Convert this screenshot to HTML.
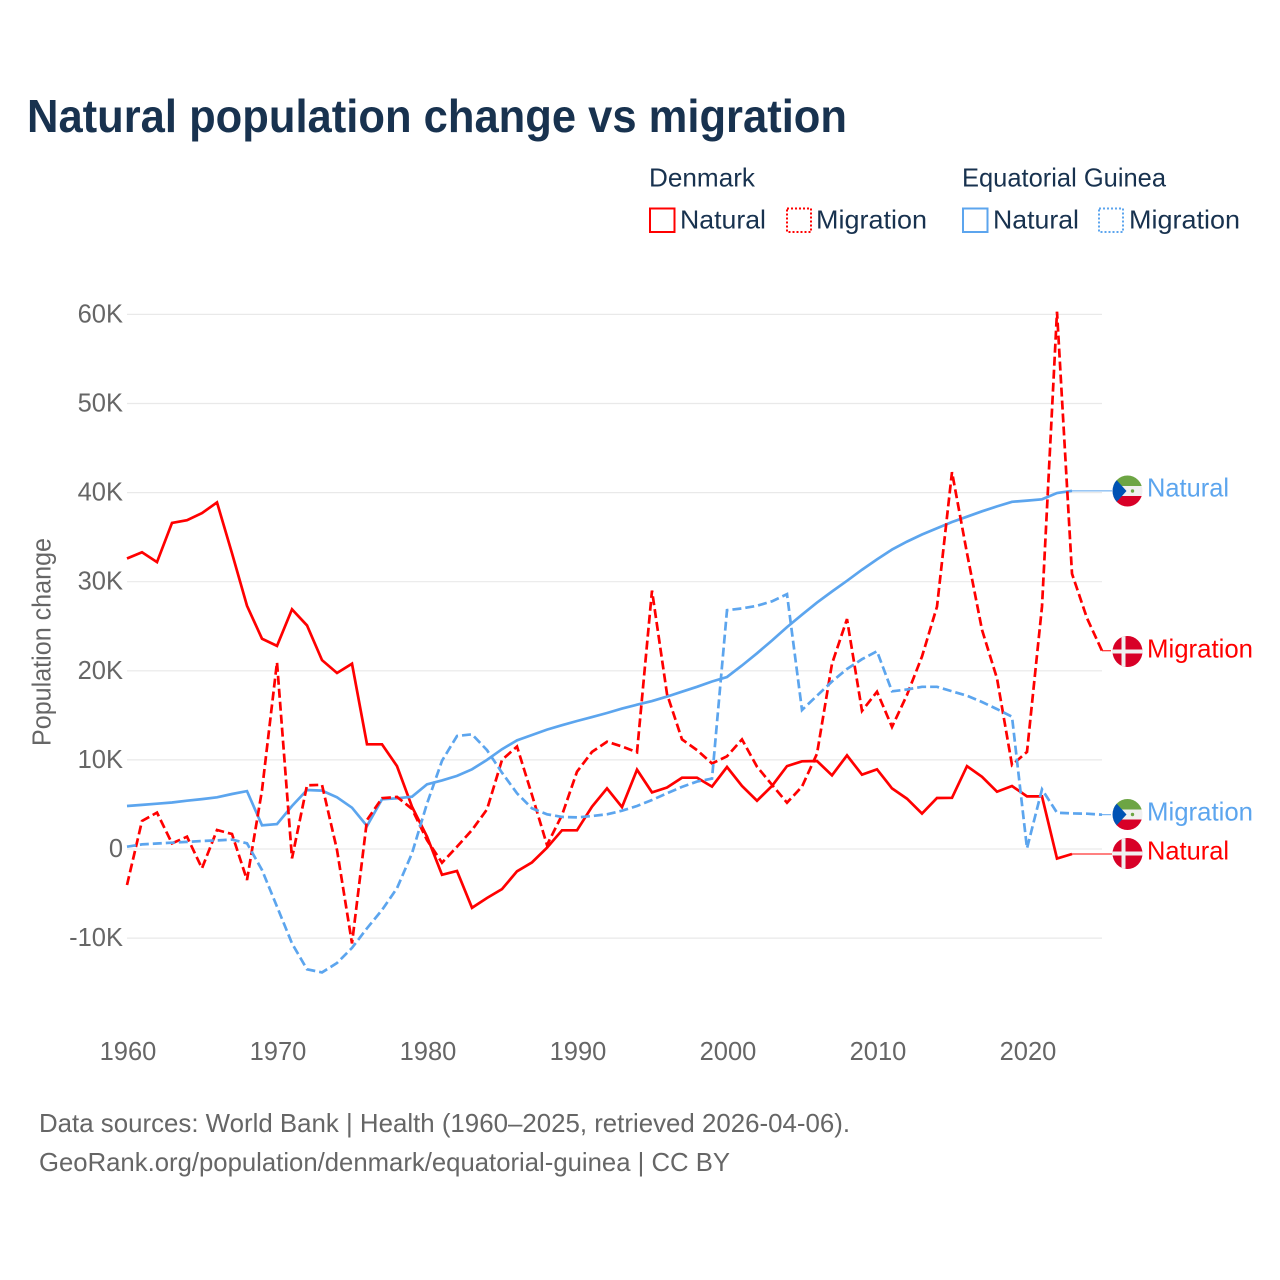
<!DOCTYPE html>
<html lang="en">
<head>
<meta charset="utf-8">
<title>Natural population change vs migration</title>
<style>
  html, body { margin: 0; padding: 0; background: #fff; }
  svg { display: block; font-family: "Liberation Sans", sans-serif; }
</style>
</head>
<body>
<svg id="chart" xmlns="http://www.w3.org/2000/svg" width="1280" height="1280" viewBox="0 0 1280 1280">
  <rect x="0" y="0" width="1280" height="1280" fill="#ffffff"/>
  <text x="27" y="132" font-size="46" font-weight="bold" fill="#18324f" textLength="820" lengthAdjust="spacingAndGlyphs">Natural population change vs migration</text>

  <g font-size="26" fill="#18324f">
    <text x="649" y="186.5" textLength="106" lengthAdjust="spacingAndGlyphs">Denmark</text>
    <text x="962" y="186.5" textLength="204" lengthAdjust="spacingAndGlyphs">Equatorial Guinea</text>
    <g>
      <rect x="650" y="208.5" width="24.5" height="23.5" fill="none" stroke="#ff0000" stroke-width="2"/>
      <text x="680" y="228.5" textLength="86" lengthAdjust="spacingAndGlyphs">Natural</text>
    </g>
    <g>
      <rect x="787" y="208.5" width="24" height="23.5" fill="none" stroke="#ff0000" stroke-width="2" stroke-dasharray="2 2"/>
      <text x="816" y="228.5" textLength="111" lengthAdjust="spacingAndGlyphs">Migration</text>
    </g>
    <g>
      <rect x="963" y="208.5" width="24.5" height="23.5" fill="none" stroke="#5ca5ee" stroke-width="2"/>
      <text x="993" y="228.5" textLength="86" lengthAdjust="spacingAndGlyphs">Natural</text>
    </g>
    <g>
      <rect x="1099" y="208.5" width="24" height="23.5" fill="none" stroke="#5ca5ee" stroke-width="2" stroke-dasharray="2 2"/>
      <text x="1129" y="228.5" textLength="111" lengthAdjust="spacingAndGlyphs">Migration</text>
    </g>
  </g>

  <g id="grid"></g>
  <g id="yticks" font-size="25.5" fill="#666666" text-anchor="end"></g>
  <g id="xticks" font-size="25.5" fill="#666666" text-anchor="middle"></g>
  <text transform="translate(50.5,746) rotate(-90)" font-size="25.5" fill="#666666" textLength="208" lengthAdjust="spacingAndGlyphs">Population change</text>
  <g id="series"></g>

  <defs>
    <clipPath id="flag-clip" clipPathUnits="objectBoundingBox"><circle cx="0.5" cy="0.5" r="0.5"/></clipPath>
  </defs>

  <g font-size="26">
    <g transform="translate(1112.5,475.5)">
      <g clip-path="url(#flag-clip)">
        <rect width="30" height="31" fill="#f0f0f0"/>
        <rect width="30" height="10.5" fill="#6da544"/>
        <rect y="20.5" width="30" height="10.5" fill="#d80027"/>
        <polygon points="0,0 14,15.5 0,31" fill="#0052b4"/>
        <circle cx="20" cy="15.5" r="1.7" fill="#6da544"/>
      </g>
    </g>
    <text x="1147" y="496.5" fill="#5ca5ee" textLength="82" lengthAdjust="spacingAndGlyphs">Natural</text>

    <g transform="translate(1112.5,636)">
      <g clip-path="url(#flag-clip)">
        <rect width="30" height="31" fill="#d80027"/>
        <rect x="9" width="4" height="31" fill="#f0f0f0"/>
        <rect y="13.5" width="30" height="4" fill="#f0f0f0"/>
      </g>
    </g>
    <text x="1147" y="657.5" fill="#ff0000" textLength="106" lengthAdjust="spacingAndGlyphs">Migration</text>

    <g transform="translate(1112.5,799)">
      <g clip-path="url(#flag-clip)">
        <rect width="30" height="31" fill="#f0f0f0"/>
        <rect width="30" height="10.5" fill="#6da544"/>
        <rect y="20.5" width="30" height="10.5" fill="#d80027"/>
        <polygon points="0,0 14,15.5 0,31" fill="#0052b4"/>
        <circle cx="20" cy="15.5" r="1.7" fill="#6da544"/>
      </g>
    </g>
    <text x="1147" y="820.5" fill="#5ca5ee" textLength="106" lengthAdjust="spacingAndGlyphs">Migration</text>

    <g transform="translate(1112.5,838)">
      <g clip-path="url(#flag-clip)">
        <rect width="30" height="31" fill="#d80027"/>
        <rect x="9" width="4" height="31" fill="#f0f0f0"/>
        <rect y="13.5" width="30" height="4" fill="#f0f0f0"/>
      </g>
    </g>
    <text x="1147" y="859.5" fill="#ff0000" textLength="82" lengthAdjust="spacingAndGlyphs">Natural</text>
  </g>

  <g font-size="26" fill="#666666">
    <text x="39" y="1132" textLength="811" lengthAdjust="spacingAndGlyphs">Data sources: World Bank | Health (1960–2025, retrieved 2026-04-06).</text>
    <text x="39" y="1171" textLength="691" lengthAdjust="spacingAndGlyphs">GeoRank.org/population/denmark/equatorial-guinea | CC BY</text>
  </g>
</svg>

<script>
const startYear = 1960;
const xTickLabels = [1960, 1970, 1980, 1990, 2000, 2010, 2020];
const yTickValues = [-10, 0, 10, 20, 30, 40, 50, 60];

const denmarkNatural = [32.6, 33.3, 32.2, 36.6, 36.9, 37.7, 38.9, 33.2, 27.3, 23.6,
  22.8, 26.9, 25.1, 21.2, 19.75, 20.8, 11.75, 11.75, 9.3, 4.75,
  1.4, -2.9, -2.47, -6.6, -5.5, -4.5, -2.5, -1.5, 0.15, 2.1,
  2.1, 4.75, 6.8, 4.7, 8.9, 6.35, 6.9, 8.0, 8.0, 7.0,
  9.2, 7.07, 5.42, 7.07, 9.3, 9.84, 9.88, 8.27, 10.5, 8.34,
  8.94, 6.8, 5.65, 3.97, 5.72, 5.75, 9.3, 8.1, 6.43, 7.07,
  5.9, 5.9, -1.08, -0.56];

const denmarkMigration = [-4.04, 3.14, 4.08, 0.63, 1.38, -2.17, 2.13, 1.68, -3.48, 6.6,
  20.95, -1.05, 7.15, 7.2, -0.1, -10.6, 3.25, 5.7, 5.85, 4.5,
  1.0, -1.54, 0.26, 2.13, 4.45, 10.0, 11.5, 6.06, 0.45, 3.8,
  8.68, 10.9, 12.04, 11.5, 10.85, 29.0, 17.4, 12.3, 11.1, 9.6,
  10.4, 12.3, 9.24, 7.2, 5.2, 7.0, 10.7, 20.8, 25.8, 15.5,
  17.65, 13.7, 17.3, 21.6, 27.2, 42.3, 33.2, 24.6, 19.15, 9.43,
  10.9, 27.2, 60.3, 30.9, 25.9, 22.25];

const guineaNatural = [4.83, 4.95, 5.08, 5.22, 5.42, 5.6, 5.8, 6.17, 6.5, 2.66,
  2.8, 4.83, 6.62, 6.55, 5.8, 4.64, 2.58, 5.58, 5.69, 5.87,
  7.26, 7.7, 8.2, 8.94, 10.0, 11.2, 12.2, 12.8, 13.4, 13.9,
  14.37, 14.8, 15.26, 15.76, 16.2, 16.6, 17.1, 17.65, 18.2, 18.8,
  19.3, 20.6, 21.96, 23.4, 24.9, 26.3, 27.65, 28.9, 30.1, 31.35,
  32.5, 33.6, 34.5, 35.3, 36.0, 36.7, 37.3, 37.9, 38.45, 38.97,
  39.1, 39.25, 39.95, 40.2];

const guineaMigration = [0.26, 0.52, 0.62, 0.71, 0.8, 0.9, 0.97, 1.05, 0.64, -2.36,
  -6.47, -10.6, -13.5, -13.85, -12.8, -11.1, -8.9, -6.85, -4.4, -0.48,
  5.1, 9.9, 12.68, 12.87, 11.1, 8.56, 6.25, 4.56, 3.9, 3.6,
  3.55, 3.7, 3.9, 4.3, 4.83, 5.5, 6.25, 6.97, 7.56, 7.9,
  26.8, 27.0, 27.3, 27.8, 28.6, 15.6, 17.2, 18.8, 20.2, 21.3,
  22.2, 17.7, 17.9, 18.2, 18.2, 17.7, 17.2, 16.5, 15.7, 14.85,
  0.08, 6.7, 4.07, 4.0, 3.96, 3.85];

const SVG_NS = 'http://www.w3.org/2000/svg';
const RED = '#ff0000';
const BLUE = '#5ca5ee';

function xScale(year) { return 127 + 15 * (year - startYear); }
function yScale(value) { return 849 - 8.91 * value; }
function yTickText(value) { return value === 0 ? '0' : value + 'K'; }

function make(tag, attrs, parent) {
  const el = document.createElementNS(SVG_NS, tag);
  Object.keys(attrs).forEach(function (k) { el.setAttribute(k, attrs[k]); });
  parent.appendChild(el);
  return el;
}

const gridGroup = document.getElementById('grid');
const yTickGroup = document.getElementById('yticks');
const xTickGroup = document.getElementById('xticks');
const seriesGroup = document.getElementById('series');

yTickValues.forEach(function (v) {
  const line = make('line', { x1: 127, x2: 1102, y1: yScale(v), y2: yScale(v), stroke: '#e9e9e9', 'stroke-width': 1.2 }, gridGroup);
  
  
  const t = make('text', { x: 123, y: yScale(v) + 8 }, yTickGroup);
  
  
  t.textContent = yTickText(v);
});

xTickLabels.forEach(function (year) {
  const t = make('text', { x: xScale(year) + 1, y: 1060 }, xTickGroup);
  
  
  t.textContent = String(year);
});

function drawSeries(values, color, dashed, name, connectorEnd) {
  const pts = values.map(function (v, i) {
    return xScale(startYear + i).toFixed(1) + ',' + yScale(v).toFixed(1);
  }).join(' ');
  const attrs = { points: pts, fill: 'none', stroke: color, 'stroke-width': 2.7, 'stroke-linejoin': 'miter' };
  if (dashed) { attrs['stroke-dasharray'] = '9 4'; }
  const line = make('polyline', attrs, seriesGroup);
  
  

  const lastIndex = values.length - 1;
  const lastValue = values[lastIndex];
  const connAttrs = {
    x1: xScale(startYear + lastIndex), x2: connectorEnd,
    y1: yScale(lastValue), y2: yScale(lastValue),
    stroke: color, 'stroke-width': 1
  };
  const conn = make('line', connAttrs, seriesGroup);
  
  
}

drawSeries(denmarkNatural, RED, false, 'line-denmark-natural', 1112);
drawSeries(guineaNatural, BLUE, false, 'line-guinea-natural', 1112);
drawSeries(denmarkMigration, RED, true, 'line-denmark-migration', 1111);
drawSeries(guineaMigration, BLUE, true, 'line-guinea-migration', 1111);
</script>
</body>
</html>
